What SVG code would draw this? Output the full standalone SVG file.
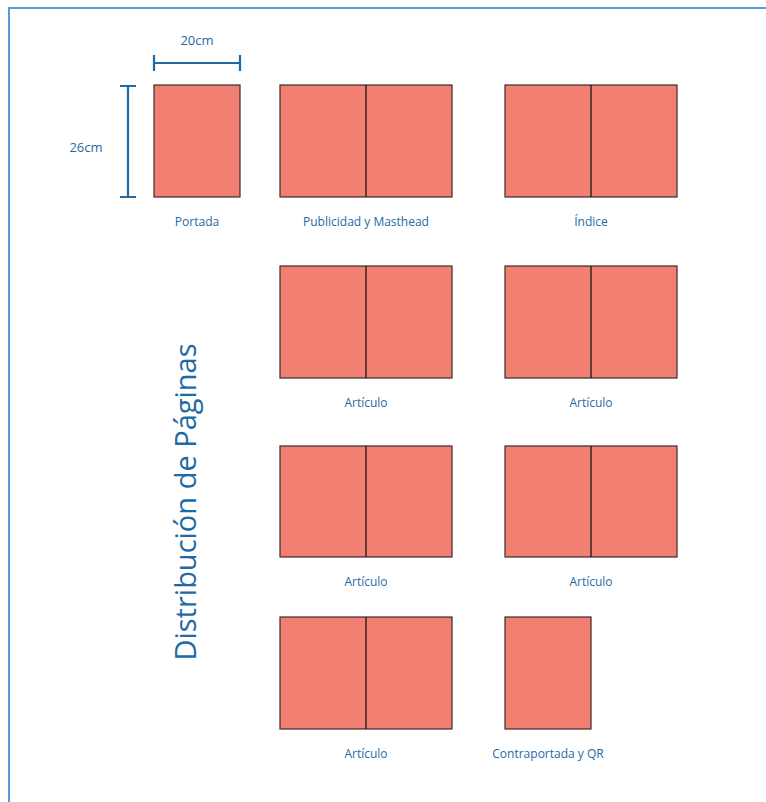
<svg xmlns="http://www.w3.org/2000/svg" width="766" height="802" viewBox="0 0 766 802">
<style>
.pg{fill:#f28072;stroke:#3b2b2b;stroke-width:1.2}
.sp{stroke:#2a1d1d;stroke-width:1.4}
.lb{font-family:"Open Sans","Noto Sans",sans-serif;font-size:12px;fill:#1f6aa5;text-anchor:middle}
.dim{stroke:#1f6aa5;stroke-width:2.2;fill:none}
</style>
<rect width="766" height="802" fill="#fff"/>
<path d="M9 802 V8 H766" fill="none" stroke="#5b9bd5" stroke-width="2"/>
<g id="dimensions">
<path class="dim" d="M154 63 H240 M154 55 V71 M240 55 V71"/>
<path class="dim" d="M128 86 V197 M120 86 H136 M120 197 H136"/>
<text class="lb" x="197" y="45" style="font-size:13px">20cm</text>
<text class="lb" x="86" y="152" style="font-size:13px">26cm</text>
</g>
<text x="196" y="502" transform="rotate(-90 196 502)" text-anchor="middle" font-family="'Open Sans','Noto Sans',sans-serif" font-size="29" fill="#1f6aa5">Distribución de Páginas</text>
<g id="portada"><rect class="pg" x="154" y="85" width="86" height="112"/><text class="lb" x="197" y="226">Portada</text></g>
<g id="publicidad"><rect class="pg" x="280" y="85" width="172" height="112"/><line class="sp" x1="366" y1="85" x2="366" y2="197"/><text class="lb" x="366" y="226">Publicidad y Masthead</text></g>
<g id="indice"><rect class="pg" x="505" y="85" width="172" height="112"/><line class="sp" x1="591" y1="85" x2="591" y2="197"/><text class="lb" x="591" y="226">Índice</text></g>
<g id="articulo1"><rect class="pg" x="280" y="266" width="172" height="112"/><line class="sp" x1="366" y1="266" x2="366" y2="378"/><text class="lb" x="366" y="407">Artículo</text></g>
<g id="articulo2"><rect class="pg" x="505" y="266" width="172" height="112"/><line class="sp" x1="591" y1="266" x2="591" y2="378"/><text class="lb" x="591" y="407">Artículo</text></g>
<g id="articulo3"><rect class="pg" x="280" y="446" width="172" height="111"/><line class="sp" x1="366" y1="446" x2="366" y2="557"/><text class="lb" x="366" y="586">Artículo</text></g>
<g id="articulo4"><rect class="pg" x="505" y="446" width="172" height="111"/><line class="sp" x1="591" y1="446" x2="591" y2="557"/><text class="lb" x="591" y="586">Artículo</text></g>
<g id="articulo5"><rect class="pg" x="280" y="617" width="172" height="112"/><line class="sp" x1="366" y1="617" x2="366" y2="729"/><text class="lb" x="366" y="758">Artículo</text></g>
<g id="contraportada"><rect class="pg" x="505" y="617" width="86" height="112"/><text class="lb" x="548" y="758">Contraportada y QR</text></g>
<g id="connectors"/>
</svg>
